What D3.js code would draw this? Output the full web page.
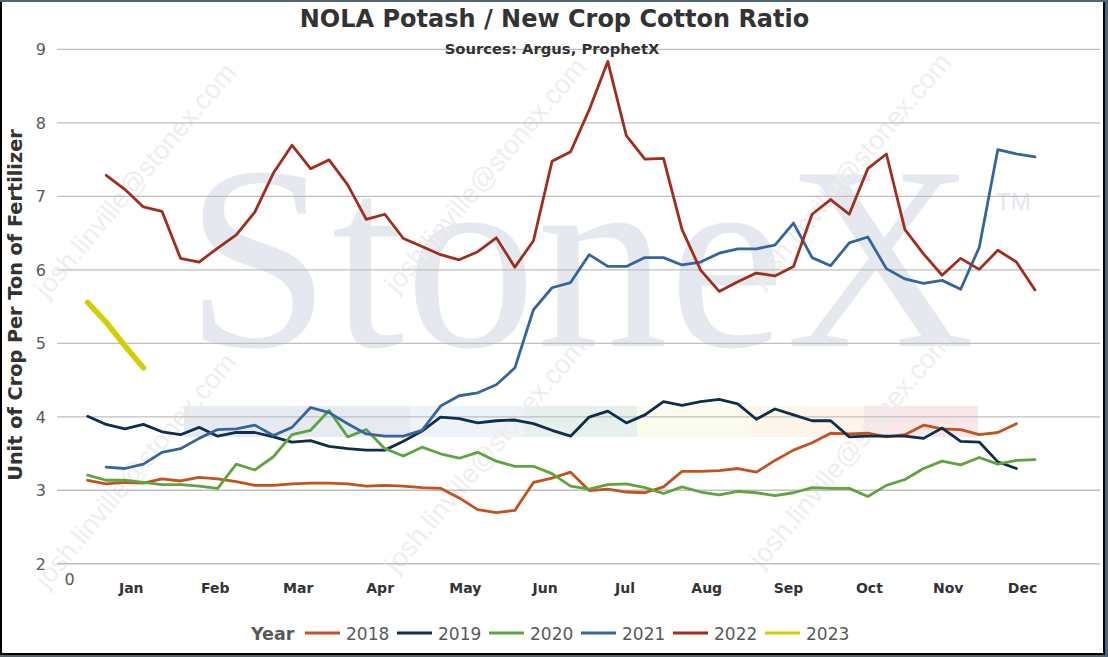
<!DOCTYPE html>
<html>
<head>
<meta charset="utf-8">
<script src="https://cdn.jsdelivr.net/npm/d3@7"></script>
<style>
  body { margin: 0; background: #4f6575; }
  svg { display: block; }
</style>
</head>
<body>
<div class="chart"></div>
<script>
// Series: weekly ratio values, one array per year
const years = ["2018", "2019", "2020", "2021", "2022", "2023"];
const lineColors = ["#c4521e", "#0f2d4c", "#5ea43f", "#35659f", "#a02d1d", "#d0d000"];
const firstWeek = [1, 1, 1, 2, 2, 1];

const v2018 = [3.13, 3.08, 3.10, 3.09, 3.15, 3.12, 3.17, 3.15, 3.11, 3.06,
               3.06, 3.08, 3.09, 3.09, 3.08, 3.05, 3.06, 3.05, 3.03, 3.02,
               2.89, 2.73, 2.69, 2.72, 3.10, 3.16, 3.24, 2.99, 3.01, 2.97,
               2.96, 3.04, 3.25, 3.25, 3.26, 3.29, 3.24, 3.40, 3.54, 3.64,
               3.77, 3.76, 3.77, 3.72, 3.75, 3.88, 3.83, 3.82, 3.75, 3.78,
               3.90];
const v2019 = [4.00, 3.89, 3.83, 3.89, 3.79, 3.75, 3.85, 3.73, 3.78, 3.78,
               3.72, 3.65, 3.67, 3.59, 3.56, 3.54, 3.54, 3.66, 3.80, 3.99,
               3.97, 3.91, 3.94, 3.95, 3.90, 3.81, 3.73, 3.99, 4.07, 3.91,
               4.02, 4.20, 4.15, 4.20, 4.23, 4.17, 3.96, 4.10, 4.02, 3.94,
               3.94, 3.72, 3.73, 3.73, 3.73, 3.70, 3.84, 3.66, 3.65, 3.38,
               3.29];
const v2020 = [3.20, 3.13, 3.13, 3.10, 3.07, 3.07, 3.05, 3.02, 3.35, 3.27,
               3.45, 3.75, 3.81, 4.08, 3.72, 3.82, 3.56, 3.46, 3.58, 3.49,
               3.43, 3.51, 3.39, 3.32, 3.32, 3.22, 3.05, 3.01, 3.07, 3.08,
               3.03, 2.95, 3.04, 2.97, 2.93, 2.98, 2.96, 2.92, 2.96, 3.03,
               3.02, 3.02, 2.91, 3.06, 3.14, 3.29, 3.39, 3.34, 3.44, 3.35,
               3.40, 3.41];
const v2021 = [3.31, 3.29, 3.35, 3.51, 3.56, 3.70, 3.82, 3.83, 3.88, 3.74,
               3.85, 4.12, 4.05, 3.90, 3.76, 3.73, 3.73, 3.81, 4.14, 4.28,
               4.32, 4.43, 4.66, 5.45, 5.75, 5.82, 6.20, 6.04, 6.04, 6.16,
               6.16, 6.06, 6.10, 6.22, 6.28, 6.28, 6.33, 6.63, 6.16, 6.05,
               6.36, 6.44, 6.01, 5.87, 5.81, 5.85, 5.73, 6.30, 7.63, 7.57,
               7.53];
const v2022 = [7.28, 7.09, 6.85, 6.79, 6.15, 6.10, 6.29, 6.47, 6.78, 7.31,
               7.69, 7.37, 7.49, 7.15, 6.68, 6.75, 6.42, 6.31, 6.20, 6.13,
               6.24, 6.43, 6.03, 6.39, 7.47, 7.60, 8.17, 8.83, 7.82, 7.50,
               7.51, 6.54, 5.99, 5.70, 5.83, 5.95, 5.91, 6.04, 6.75, 6.95,
               6.75, 7.37, 7.57, 6.54, 6.21, 5.92, 6.15, 6.00, 6.26, 6.10,
               5.72];
const v2023 = [5.55, 5.28, 4.96, 4.66];

const yTicks = [2, 3, 4, 5, 6, 7, 8, 9];
const monthLabels = ["Jan", "Feb", "Mar", "Apr", "May", "Jun", "Jul", "Aug", "Sep", "Oct", "Nov", "Dec"];
const monthWeeks = [3.32, 7.84, 12.31, 16.72, 21.3, 25.6, 29.9, 34.3, 38.7, 43.06, 47.3, 51.3];

const allValues = [v2018, v2019, v2020, v2021, v2022, v2023];

const W = 1108, H = 657;
const FONT = "'DejaVu Sans', Verdana, sans-serif";

const svg = d3.select(".chart").append("svg")
  .attr("width", W)
  .attr("height", H);

// frame
svg.append("rect").attr("width", W).attr("height", H).attr("fill", "#4f6575");
svg.append("rect").attr("x", 0).attr("y", 2).attr("width", 1105).attr("height", 653).attr("fill", "#000");
svg.append("rect").attr("x", 2).attr("y", 2).attr("width", 1101).attr("height", 651).attr("fill", "#fff");

// scales
const x = d3.scaleLinear().domain([-0.65, 55.5]).range([57, 1100]);
const y = d3.scaleLinear().domain([2, 9]).range([563.3, 48.9]);

// watermark (logo bands, StoneX word, email)
const bands = [
  { from: 184, to: 410, c: "#e7ebf1" },
  { from: 410, to: 524, c: "#eef3f9" },
  { from: 524, to: 637, c: "#e7f0ea" },
  { from: 637, to: 751, c: "#fafbed" },
  { from: 751, to: 864, c: "#fdf5ea" },
  { from: 864, to: 978, c: "#f8e8ea" }
];
const wm = svg.append("g").attr("class", "watermark");
wm.selectAll("rect").data(bands).enter().append("rect")
  .attr("x", d => d.from).attr("y", 406)
  .attr("width", d => d.to - d.from).attr("height", 31)
  .attr("fill", d => d.c);

wm.append("text")
  .attr("x", 185).attr("y", 346)
  .attr("textLength", 790)
  .attr("lengthAdjust", "spacing")
  .attr("font-family", "'Liberation Serif', 'DejaVu Serif', serif")
  .attr("font-size", 262)
  .attr("fill", "#e5e9ef")
  .text("StoneX");
wm.append("text")
  .attr("x", 996).attr("y", 210)
  .attr("font-family", "'Liberation Sans', sans-serif")
  .attr("font-size", 24)
  .attr("fill", "#e3e7ed")
  .text("TM");

const emailSpots = [[135, 180], [485, 175], [850, 170], [135, 470], [485, 455], [850, 450]];
wm.selectAll(".email").data(emailSpots).enter().append("text")
  .attr("class", "email")
  .attr("transform", d => `translate(${d[0]},${d[1]}) rotate(-50)`)
  .attr("text-anchor", "middle")
  .attr("dy", "0.35em")
  .attr("font-family", "'Liberation Sans', sans-serif")
  .attr("font-size", 27)
  .attr("fill", "#eeeeee")
  .text("josh.linville@stonex.com");

// y gridlines + labels
const yAxis = svg.append("g")
  .attr("transform", "translate(57,0)")
  .call(d3.axisLeft(y).tickValues(yTicks).tickSize(-1043).tickPadding(11).tickFormat(d3.format("d")));
yAxis.select(".domain").remove();
yAxis.selectAll("line").attr("stroke", "#bfbfbf").attr("stroke-width", 1.4);
yAxis.selectAll("text")
  .attr("font-family", FONT).attr("font-size", 16).attr("fill", "#595959").attr("dy", "0.36em");

// x month labels
const xAxis = svg.append("g")
  .attr("transform", "translate(0,563)")
  .call(d3.axisBottom(x).tickValues(monthWeeks).tickSize(0).tickFormat((d, i) => monthLabels[i]));
xAxis.select(".domain").remove();
xAxis.selectAll("text")
  .attr("y", 30).attr("dy", 0)
  .attr("font-family", FONT).attr("font-size", 14).attr("font-weight", "bold").attr("fill", "#333");

// stray zero tick at week 0
const zeroAxis = svg.append("g")
  .attr("transform", "translate(0,563)")
  .call(d3.axisBottom(x).tickValues([0]).tickSize(0).tickFormat(d3.format("d")));
zeroAxis.select(".domain").remove();
zeroAxis.selectAll("text")
  .attr("y", 22).attr("dy", 0)
  .attr("font-family", FONT).attr("font-size", 16).attr("fill", "#595959");

// lines
const line = d3.line().x(d => x(d.w)).y(d => y(d.v));
const series = years.map((yr, i) => ({
  year: yr,
  color: lineColors[i],
  pts: allValues[i].map((v, j) => ({ w: firstWeek[i] + j, v: v }))
}));

svg.append("g").selectAll("path").data(series).enter().append("path")
  .attr("d", d => line(d.pts))
  .attr("fill", "none")
  .attr("stroke", d => d.color)
  .attr("stroke-width", d => d.year === "2023" ? 5.5 : 2.8)
  .attr("stroke-linejoin", "round")
  .attr("stroke-linecap", "round");

// titles
svg.append("text")
  .attr("x", 554.5).attr("y", 27)
  .attr("text-anchor", "middle")
  .attr("font-family", FONT).attr("font-size", 24).attr("font-weight", "bold").attr("fill", "#333")
  .text("NOLA Potash / New Crop Cotton Ratio");
svg.append("text")
  .attr("x", 552).attr("y", 54)
  .attr("text-anchor", "middle")
  .attr("font-family", FONT).attr("font-size", 14.8).attr("font-weight", "bold").attr("fill", "#333")
  .text("Sources: Argus, ProphetX");
svg.append("text")
  .attr("transform", "translate(22,305) rotate(-90)")
  .attr("text-anchor", "middle")
  .attr("font-family", FONT).attr("font-size", 19.3).attr("font-weight", "bold").attr("fill", "#333")
  .text("Unit of Crop Per Ton of Fertilizer");

// legend
const legend = svg.append("g").attr("transform", "translate(251,640)");
legend.append("text")
  .attr("font-family", FONT).attr("font-size", 17.5).attr("font-weight", "bold").attr("fill", "#595959")
  .text("Year");
const item = legend.selectAll(".item").data(series).enter().append("g")
  .attr("class", "item")
  .attr("transform", (d, i) => `translate(${54 + i * 92},0)`);
item.append("line")
  .attr("x1", 0).attr("x2", 35).attr("y1", -7).attr("y2", -7)
  .attr("stroke", d => d.color).attr("stroke-width", 3);
item.append("text")
  .attr("x", 41)
  .attr("font-family", FONT).attr("font-size", 17).attr("fill", "#595959")
  .text(d => d.year);
</script>
</body>
</html>
